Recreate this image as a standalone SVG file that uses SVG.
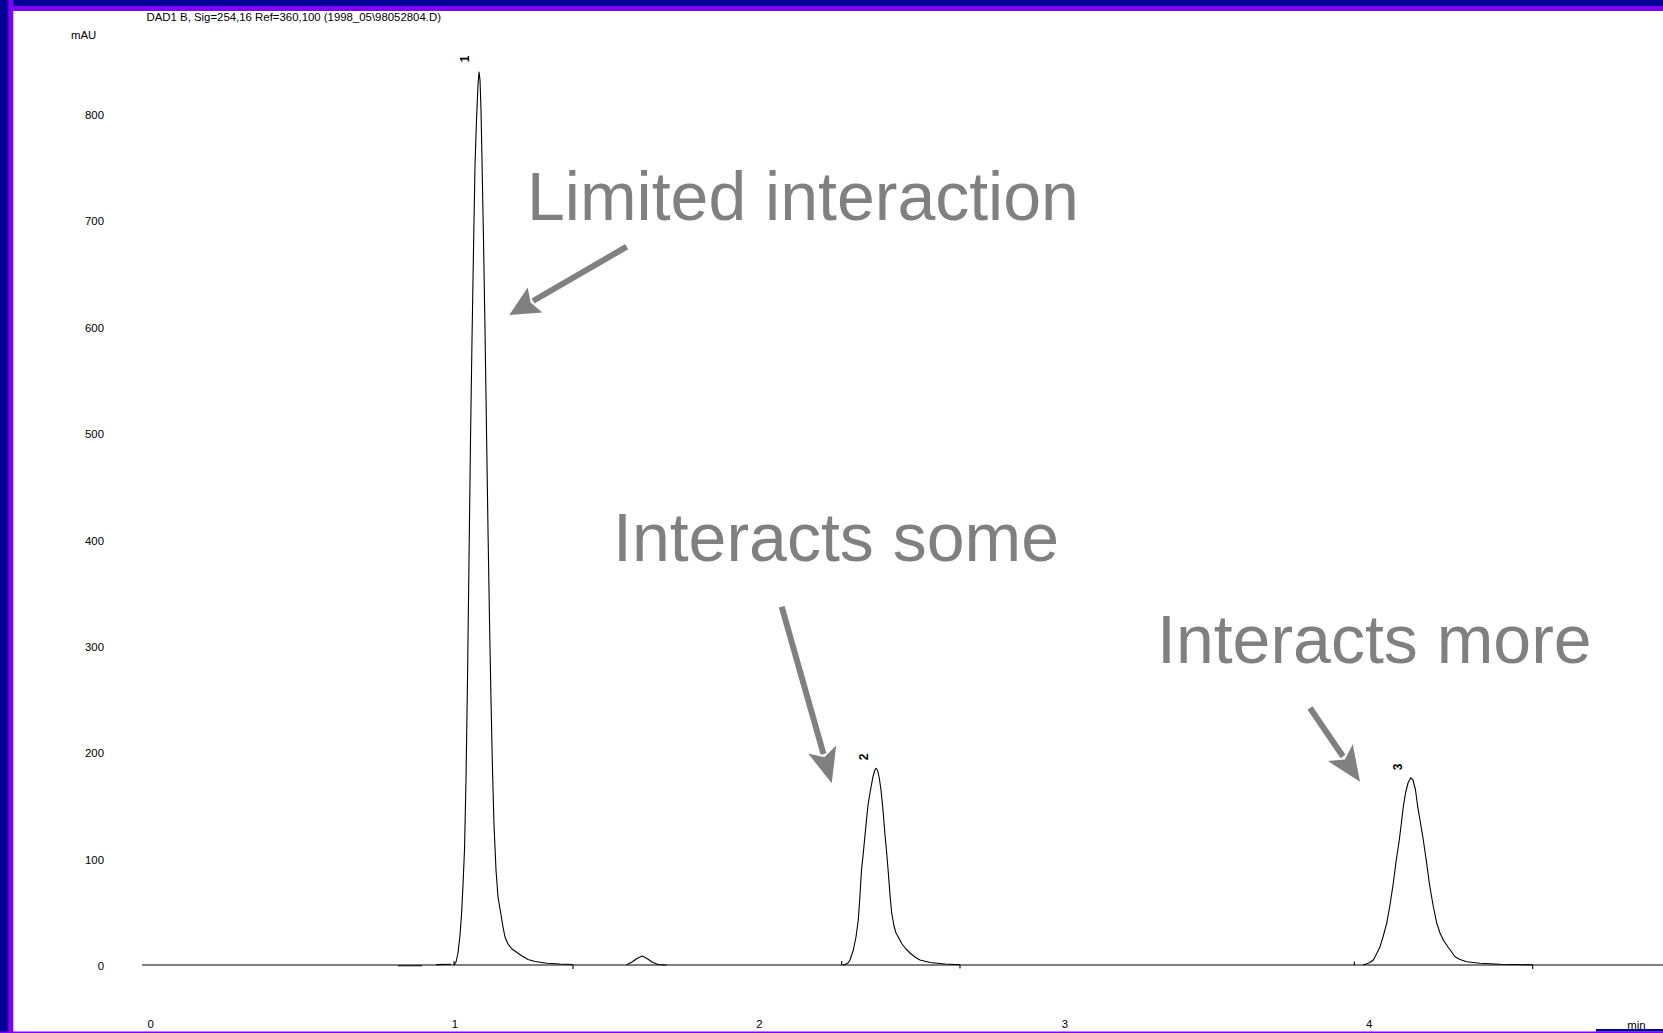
<svg xmlns="http://www.w3.org/2000/svg" width="1663" height="1033" viewBox="0 0 1663 1033">
<style>
.ax{font-family:"Liberation Sans",Arial,sans-serif;font-size:11.4px;fill:#000}
.yl{text-anchor:end}
.xl{text-anchor:middle}
.pk{font-family:"Liberation Sans",Arial,sans-serif;font-size:12px;font-weight:bold;fill:#000;text-anchor:middle}
.tr{fill:none;stroke:#000;stroke-width:1.1;stroke-linejoin:round}
.note{font-family:"Liberation Sans",Arial,sans-serif;font-size:68px;fill:#808080}
.shaft{stroke:#808080;stroke-width:6;fill:none}
.head{fill:#808080}
</style>
<rect x="0" y="0" width="1663" height="1033" fill="#fff"/>
<g id="frame">
<rect x="0" y="0" width="1663" height="11" fill="#8000ff"/>
<rect x="0" y="0" width="1663" height="6" fill="#000096"/>
<rect x="0" y="0" width="13.3" height="1033" fill="#8000ff"/>
<rect x="0" y="0" width="8.3" height="1033" fill="#000096"/>
<rect x="0" y="1031.5" width="1663" height="1.5" fill="#8000ff"/>
<rect x="1596" y="1029" width="67" height="2.5" fill="#000096"/>
</g>
<g id="header">
<text class="ax" x="146.5" y="20.7">DAD1 B, Sig=254,16 Ref=360,100 (1998_05\98052804.D)</text>
</g>
<g id="y-axis">
<text class="ax" x="71" y="39">mAU</text>
<text class="ax yl" x="104" y="119">800</text>
<text class="ax yl" x="104" y="225.4">700</text>
<text class="ax yl" x="104" y="331.8">600</text>
<text class="ax yl" x="104" y="438.2">500</text>
<text class="ax yl" x="104" y="544.6">400</text>
<text class="ax yl" x="104" y="651">300</text>
<text class="ax yl" x="104" y="757.4">200</text>
<text class="ax yl" x="104" y="863.8">100</text>
<text class="ax yl" x="104" y="970.2">0</text>
</g>
<g id="x-axis">
<line x1="142" y1="965" x2="1663" y2="965" stroke="#000" stroke-width="1"/>
<text class="ax xl" x="150.6" y="1027.5">0</text>
<text class="ax xl" x="455" y="1027.5">1</text>
<text class="ax xl" x="759.4" y="1027.5">2</text>
<text class="ax xl" x="1064.8" y="1027.5">3</text>
<text class="ax xl" x="1369.2" y="1027.5">4</text>
<text class="ax xl" x="1636.5" y="1028.5">min</text>
</g>
<g id="trace">
<path class="tr" stroke="#666" d="M398 965.7 L422 965.7 M436 964.6 L451 964.2"/>
<path class="tr" d="M454 965 L456 962 L458 953 L460 935 L461.5 915 L463 885 L464.5 850 L466 780 L467.5 680 L469 560 L470.5 440 L472 340 L473.5 250 L475 165 L476.5 120 L478 85 L479 72 L480 80 L481 110 L482 160 L483.5 240 L485 330 L486.5 430 L488 530 L489.5 620 L491 700 L492.5 770 L494 825 L496 870 L498 897 L500.7 913 L503 927 L505 937 L508 944 L512 949 L517 952.5 L522 956 L528 959.5 L535 961.5 L547 963.2 L560 964 L573 964.5"/>
<path class="tr" d="M626.7 964.8 L632 962 L637 958.5 L642.3 956 L647 958.5 L652 962 L658 964.5 L666.7 965"/>
<path class="tr" d="M843 965 L845 964.5 L848 963 L850 960 L853.3 950 L856 937 L858.3 920 L860 895 L861.5 870 L863.3 853 L865.5 830 L868 805 L870.5 790 L872.7 778 L874.5 771 L876 768.3 L877.5 770 L879.3 778 L881 790 L883 810 L885 835 L886.7 853 L888.5 875 L890 895 L891.7 913 L894 926 L896 933 L898.3 937 L902 944 L906 949 L910 953 L915 957 L920 960 L930 962.5 L945 964 L960 964.8"/>
<path class="tr" d="M1363 965 L1366 964 L1370 962.5 L1373.3 960 L1376.5 954 L1380 946.7 L1383 937 L1386.7 923.3 L1390 905 L1393.3 883 L1396 862 L1399.3 840 L1401.5 822 L1403.3 806.7 L1405.5 793 L1408 783 L1410.7 777.7 L1413 780 L1415.5 790 L1417.7 806.7 L1420.5 823 L1423.3 840 L1426.5 862 L1429.3 883 L1433 905 L1436.7 923 L1440 933 L1443.3 940 L1448 947 L1455 956.7 L1460 959.5 L1466.7 961.7 L1480 963.3 L1500 964.2 L1532.7 964.8"/>
<path class="tr" d="M454 961 L454 965 M573 965 L573 969 M841.7 961 L841.7 965 M960 965 L960 968.5 M1354.3 961.5 L1354.3 965 M1532.7 965 L1532.7 969"/>
</g>
<g id="peak-labels">
<text class="pk" transform="translate(468.5 59) rotate(-90)">1</text>
<text class="pk" transform="translate(867.5 757) rotate(-90)">2</text>
<text class="pk" transform="translate(1401.5 767) rotate(-90)">3</text>
</g>
<g id="note-limited">
<text class="note" x="527" y="219.5">Limited interaction</text>
</g>
<g id="note-some">
<text class="note" x="613" y="561">Interacts some</text>
</g>
<g id="note-more">
<text class="note" x="1157" y="663">Interacts more</text>
</g>
<g id="connectors">
<line class="shaft" x1="626.7" y1="246.7" x2="533" y2="301"/>
<polygon class="head" points="509.3,315 527.7,287.4 530.6,302.4 542.3,312.4"/>
<line class="shaft" x1="781.7" y1="606.7" x2="823.5" y2="754"/>
<polygon class="head" points="831.7,783.3 808.2,753.6 824.3,757.3 836.2,745.6"/>
<line class="shaft" x1="1310" y1="708" x2="1343" y2="756.5"/>
<polygon class="head" points="1360,781.7 1327.9,761.1 1344.8,759.4 1352.8,744.3"/>
</g>
</svg>
